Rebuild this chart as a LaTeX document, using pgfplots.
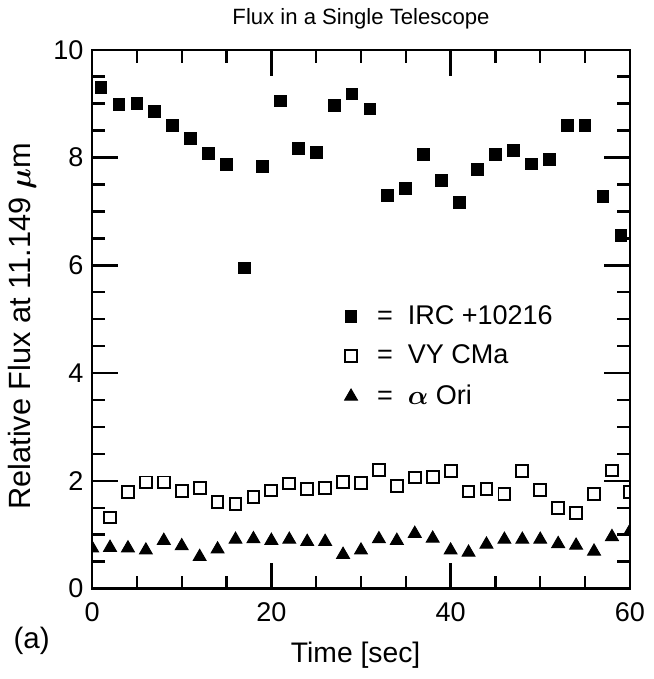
\documentclass[border=0pt]{standalone}
\usepackage{fontspec}
\setmainfont{Liberation Sans}
\usepackage{pgfplots}
\usepackage{pgfplotstable}
\usetikzlibrary{calc}
\pgfplotsset{compat=1.18}

% IRC +10216
\pgfplotstableread{
t f
1 9.30
3 8.98
5 9.00
7 8.86
9 8.59
11 8.35
13 8.07
15 7.87
17 5.95
19 7.83
21 9.05
23 8.17
25 8.09
27 8.96
29 9.18
31 8.90
33 7.30
35 7.43
37 8.06
39 7.57
41 7.17
43 7.78
45 8.06
47 8.13
49 7.88
51 7.96
53 8.59
55 8.59
57 7.27
59 6.55
}\irc

% VY CMa
\pgfplotstableread{
t f
2 1.32
4 1.79
6 1.97
8 1.97
10 1.81
12 1.86
14 1.61
16 1.57
18 1.70
20 1.82
22 1.95
24 1.85
26 1.87
28 1.98
30 1.96
32 2.20
34 1.91
36 2.06
38 2.07
40 2.18
42 1.80
44 1.85
46 1.76
48 2.18
50 1.83
52 1.49
54 1.40
56 1.76
58 2.19
60 1.79
}\vycma

% alpha Ori
\pgfplotstableread{
t f
0 0.75
2 0.76
4 0.75
6 0.71
8 0.89
10 0.79
12 0.59
14 0.73
16 0.91
18 0.92
20 0.89
22 0.91
24 0.87
26 0.87
28 0.63
30 0.71
32 0.92
34 0.89
36 1.02
38 0.93
40 0.71
42 0.67
44 0.82
46 0.91
48 0.91
50 0.91
52 0.83
54 0.80
56 0.69
58 0.96
60 1.06
}\aori

\begin{document}
\begin{tikzpicture}
\begin{axis}[
    width=218.8pt, height=219.2pt, scale only axis,
    xmin=0, xmax=60, ymin=0, ymax=10,
    xtick={0,20,40,60}, minor xtick={5,10,15,25,30,35,45,50,55},
    ytick={0,2,...,10}, minor ytick={0.5,1,...,9.5},
    tick align=inside,
    major tick length=10.5pt, minor tick length=5.3pt,
    axis line style={line width=1pt},
    tick style={black, line width=1pt},
    /pgf/number format/assume math mode=true,
    tick label style={font=\fontsize{11}{13}\selectfont},
    xticklabel style={yshift=-2pt},
    label style={font=\fontsize{11.5}{13}\selectfont},
    xlabel={Time [sec]},
    xlabel style={at={(axis description cs:0.49,-0.124)}, anchor=center},
    ylabel={Relative Flux at 11.149 {\boldmath$\mu$}m},
    ylabel style={at={(axis description cs:-0.13,0.487)}, anchor=center,
        font=\fontsize{12.5}{14}\selectfont},
    title={Flux in a Single Telescope},
    title style={font=\fontsize{9}{11}\selectfont, yshift=-1pt},
    clip marker paths=true,
    legend style={draw=none, fill=none, at={(axis description cs:0.455,0.545)},
        anchor=north west, font=\fontsize{11}{13}\selectfont,
        row sep=3pt},
    legend cell align=left,
]
\addplot[only marks, mark=square*, mark size=2.4pt, black] table[x=t, y=f] {\irc};
\addlegendentry{\hspace{6pt}=\hspace{3pt} IRC +10216}
\addplot[only marks, mark=square, mark size=2.4pt, black, line width=0.8pt,
    mark options={fill=white}] table[x=t, y=f] {\vycma};
\addlegendentry{\hspace{6pt}=\hspace{3pt} VY CMa}
\addplot[only marks, mark=triangle*, mark size=3pt, black] table[x=t, y=f] {\aori};
\addlegendentry{\hspace{6pt}=\hspace{3pt} {\boldmath$\alpha$} Ori}
\pgfplotsinvokeforeach{2,4,6,8}{
  \draw[line width=1pt] (axis cs:0,#1) -- ++(10.5pt,0);
  \draw[line width=1pt] (axis cs:60,#1) -- ++(-10.5pt,0);
}
\pgfplotsinvokeforeach{0.5,1,1.5,2.5,3,3.5,4.5,5,5.5,6.5,7,7.5,8.5,9,9.5}{
  \draw[line width=1pt] (axis cs:0,#1) -- ++(5.3pt,0);
  \draw[line width=1pt] (axis cs:60,#1) -- ++(-5.3pt,0);
}
\coordinate (ll) at (rel axis cs:0,0);
\coordinate (lr) at (rel axis cs:1,0);
\coordinate (ul) at (rel axis cs:0,1);
\coordinate (ur) at (rel axis cs:1,1);
\end{axis}
% x tick marks, drawn on the frame after the axis
\foreach \f in {0.33333,0.66667}{
  \draw[line width=1pt, black] ($(ll)!\f!(lr)$) -- ++(0,10.5pt);
  \draw[line width=1pt, black] ($(ul)!\f!(ur)$) -- ++(0,-10.5pt);
}
\foreach \f in {0.08333,0.16667,0.25,0.41667,0.5,0.58333,0.75,0.83333,0.91667}{
  \draw[line width=1pt, black] ($(ll)!\f!(lr)$) -- ++(0,5.3pt);
  \draw[line width=1pt, black] ($(ul)!\f!(ur)$) -- ++(0,-5.3pt);
}
\node[font=\fontsize{12}{14}\selectfont, anchor=west] at ([xshift=-35.5pt,yshift=-21.2pt]ll) {(a)};
\path ([xshift=-37.2pt,yshift=-36.8pt]ll) rectangle ([xshift=6pt,yshift=15.2pt]ur);
\end{tikzpicture}
\end{document}
